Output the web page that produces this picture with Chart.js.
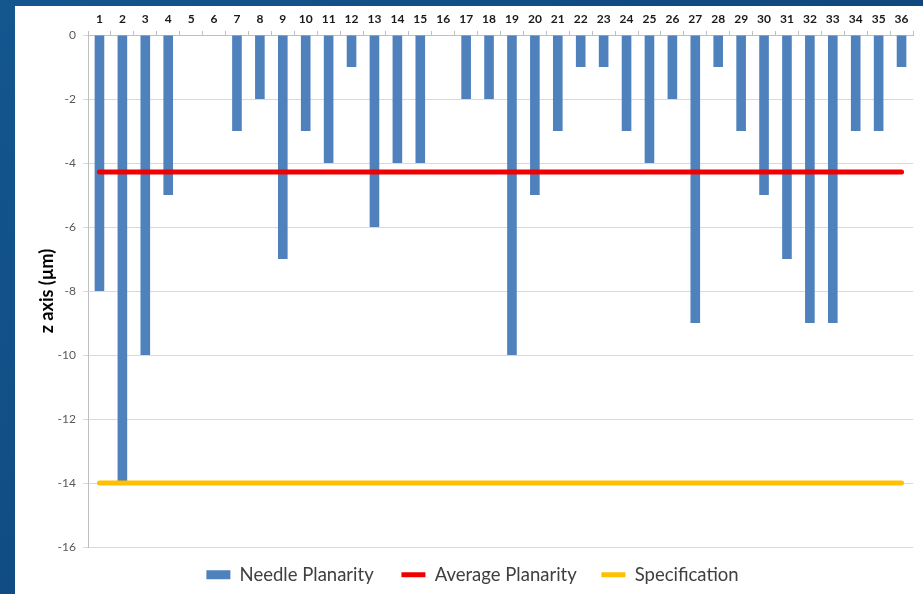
<!DOCTYPE html>
<html>
<head>
<meta charset="utf-8">
<script src="https://cdn.jsdelivr.net/npm/chart.js@4.4.1/dist/chart.umd.min.js"></script>
<style>
  html, body { margin: 0; padding: 0; }
  body { width: 923px; height: 594px; overflow: hidden;
         background: linear-gradient(135deg, #14568f 0%, #0f4a80 50%, #0b3f72 100%); position: relative; }
  #panel { position: absolute; left: 15px; top: 6px; width: 908px; height: 588px; background: #ffffff; }
  #c { display: block; }
</style>
</head>
<body>
<div id="panel"><canvas id="c" width="908" height="588"></canvas></div>
<script>
const categories = ['1','2','3','4','5','6','7','8','9','10','11','12','13','14','15','16','17','18',
                    '19','20','21','22','23','24','25','26','27','28','29','30','31','32','33','34','35','36'];
const needlePlanarity = [-8,-14,-10,-5,0,0,-3,-2,-7,-3,-4,-1,-6,-4,-4,0,-2,-2,
                         -10,-5,-3,-1,-1,-3,-4,-2,-9,-1,-3,-5,-7,-9,-9,-3,-3,-1];
const averagePlanarity = [-4.28,-4.28,-4.28,-4.28,-4.28,-4.28,-4.28,-4.28,-4.28,-4.28,-4.28,-4.28,
                          -4.28,-4.28,-4.28,-4.28,-4.28,-4.28,-4.28,-4.28,-4.28,-4.28,-4.28,-4.28,
                          -4.28,-4.28,-4.28,-4.28,-4.28,-4.28,-4.28,-4.28,-4.28,-4.28,-4.28,-4.28];
const specification = [-14,-14,-14,-14,-14,-14,-14,-14,-14,-14,-14,-14,
                       -14,-14,-14,-14,-14,-14,-14,-14,-14,-14,-14,-14,
                       -14,-14,-14,-14,-14,-14,-14,-14,-14,-14,-14,-14];
const seriesNames = ['Needle Planarity', 'Average Planarity', 'Specification'];
const yTitle = 'z axis (µm)';

const FONT = "Lato, 'Open Sans', sans-serif";
const legendGaps = ['\u2002', '\u2004', ''];

new Chart(document.getElementById('c'), {
  type: 'bar',
  data: {
    labels: categories,
    datasets: [
      { type: 'bar', label: seriesNames[0], data: needlePlanarity, backgroundColor: '#4f81bd',
        borderWidth: 0, categoryPercentage: 1.0, barPercentage: 0.42, order: 3, pointStyle: 'rect' },
      { type: 'line', label: seriesNames[1], data: averagePlanarity, borderColor: '#f00000',
        backgroundColor: '#f00000', borderWidth: 5, pointRadius: 0, borderCapStyle: 'round',
        order: 2, pointStyle: 'line' },
      { type: 'line', label: seriesNames[2], data: specification, borderColor: '#ffc000',
        backgroundColor: '#ffc000', borderWidth: 5, pointRadius: 0, borderCapStyle: 'round',
        order: 1, pointStyle: 'line' }
    ]
  },
  options: {
    responsive: false,
    animation: false,
    layout: { padding: { left: 17, right: 10, top: 0, bottom: 0 } },
    plugins: {
      tooltip: { enabled: false },
      legend: {
        position: 'bottom',
        labels: {
          usePointStyle: true, pointStyleWidth: 24, boxHeight: 9,
          padding: 18.5, color: '#404040',
          font: { family: FONT, size: 18.5 },
          sort: (a, b) => a.datasetIndex - b.datasetIndex,
          generateLabels: chart => {
            const items = Chart.defaults.plugins.legend.labels.generateLabels(chart);
            items.forEach(it => { it.text = it.text + legendGaps[it.datasetIndex]; });
            return items;
          }
        }
      }
    },
    scales: {
      x: {
        position: 'top',
        offset: true,
        grid: { offset: true, drawOnChartArea: false, drawTicks: true, tickLength: 4, color: '#bfbfbf' },
        border: { color: '#bfbfbf' },
        ticks: { color: '#1a1a1a', font: { family: FONT, size: 12, weight: 'bold' }, padding: 5, maxRotation: 0, autoSkip: false },
        afterFit: s => { s.height = 29; }
      },
      y: {
        min: -16, max: 0,
        grid: { color: '#d9d9d9', drawTicks: true, tickLength: 5 },
        border: { color: '#bfbfbf' },
        ticks: { stepSize: 2, color: '#595959', font: { family: FONT, size: 12 }, padding: 7 },
        title: { display: true, text: yTitle, color: '#000000', font: { family: FONT, size: 18, weight: 'bold' }, padding: { top: 4, bottom: 0 } },
        afterFit: s => { s.width = 56; }
      }
    }
  }
});
</script>
</body>
</html>
